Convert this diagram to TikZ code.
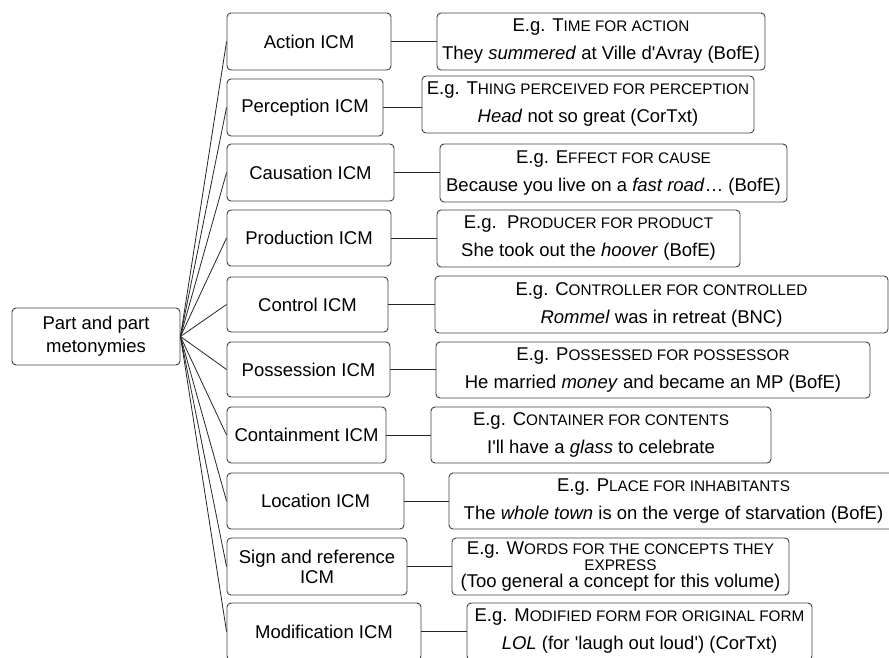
\documentclass[tikz,border=0pt]{standalone}
\usepackage{fontspec}
\setmainfont{Liberation Sans}[Ligatures=TeXReset]
\newcommand\smc[1]{{\fontsize{15.3}{15.3}\selectfont #1}}
\begin{document}
\begin{tikzpicture}[x=1pt,y=-1pt,
  box/.style={draw=black!75, line width=0.9pt, rounded corners=4pt, inner sep=0pt, align=center},
  sz/.style 2 args={minimum width=#1pt, minimum height=#2pt},
  icm/.style={box, font=\fontsize{18.5}{20}\selectfont},
  ex/.style={box, font=\fontsize{18.5}{28}\selectfont},
  exthree/.style={box, font=\fontsize{18.5}{16.6}\selectfont},
  link/.style={draw=black!85, line width=0.8pt}]
\useasboundingbox (0,0) rectangle (889,657);

% root
\node[box, font=\fontsize{18.5}{23}\selectfont, sz={168}{57}] (root) at (96,336.5) {Part and part\\metonymies};

% ICM boxes
\node[icm, sz={164}{57}] (a) at (309,41.5) {Action ICM};
\node[icm, sz={156}{57}] (b) at (305,107.5) {Perception ICM};
\node[icm, sz={167}{57}] (c) at (310.5,172.5) {Causation ICM};
\node[icm, sz={164}{56}] (d) at (309,238) {Production ICM};
\node[icm, sz={161}{55}] (e) at (307.5,304.5) {Control ICM};
\node[icm, sz={163}{55}] (f) at (308.5,369.5) {Possession ICM};
\node[icm, sz={159}{56}] (g) at (306.5,435) {Containment ICM};
\node[icm, sz={177}{56}] (h) at (315.5,501) {Location ICM};
\node[icm, sz={180}{57}] (i) at (317,566.5) {Sign and reference\\ICM};
\node[icm, sz={194}{57}] (j) at (324,631.5) {Modification ICM};

% example boxes
\node[ex, sz={328}{57}] (A) at (601,41.5) {E.g. T\smc{IME FOR ACTION}\\They \textit{summered} at Ville d'Avray (BofE)};
\node[ex, sz={332}{57}] (B) at (588,104.5) {E.g. T\smc{HING PERCEIVED FOR PERCEPTION}\\\textit{Head} not so great (CorTxt)};
\node[ex, sz={347}{58}] (C) at (613.5,173) {E.g. E\smc{FFECT FOR CAUSE}\\Because you live on a \textit{fast road}\dots{} (BofE)};
\node[ex, sz={303}{57}] (D) at (588.5,238.5) {E.g.\ \ P\smc{RODUCER FOR PRODUCT}\\She took out the \textit{hoover} (BofE)};
\node[ex, sz={453}{57}] (E) at (661.5,304.5) {E.g. C\smc{ONTROLLER FOR CONTROLLED}\\\textit{Rommel} was in retreat (BNC)};
\node[ex, sz={434}{56}] (F) at (653,370) {E.g. P\smc{OSSESSED FOR POSSESSOR}\\He married \textit{money} and became an MP (BofE)};
\node[ex, sz={340}{56}] (G) at (601,435) {E.g. C\smc{ONTAINER FOR CONTENTS}\\I'll have a \textit{glass} to celebrate};
\node[ex, sz={449}{56}] (H) at (673.5,501) {E.g. P\smc{LACE FOR INHABITANTS}\\The \textit{whole town} is on the verge of starvation (BofE)};
\node[exthree, sz={337}{57}] (I) at (620.5,566.5) {E.g. W\smc{ORDS FOR THE CONCEPTS THEY}\\\smc{EXPRESS}\\(Too general a concept for this volume)};
\node[ex, sz={345}{57}] (J) at (639.5,631.5) {E.g. M\smc{ODIFIED FORM FOR ORIGINAL FORM}\\\textit{LOL} (for 'laugh out loud') (CorTxt)};

% connectors root -> ICM
\foreach \n in {a,b,c,d,e,f,g,h,i,j}
  \draw[link] (root.east) -- (\n.west);

% connectors ICM -> example
\foreach \n/\m in {a/A,b/B,c/C,d/D,e/E,f/F,g/G,h/H,i/I,j/J}
  \draw[link] (\n.east) -- (\n.east -| \m.west);
\end{tikzpicture}
\end{document}
